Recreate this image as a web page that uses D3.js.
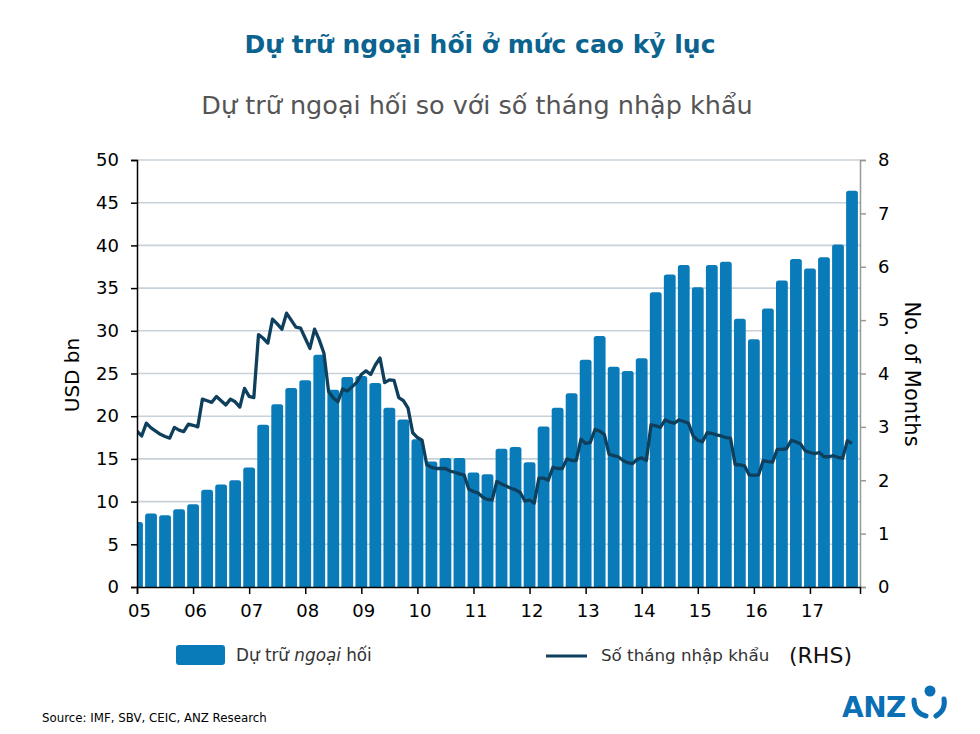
<!DOCTYPE html>
<html>
<head>
<meta charset="utf-8">
<script src="https://cdn.jsdelivr.net/npm/d3@7"></script>
<style>
  html, body { margin: 0; padding: 0; background: #fff; }
  svg { display: block; }
  text { font-family: "DejaVu Sans", Verdana, sans-serif; }
</style>
</head>
<body>
<div id="chart"></div>
<script>
// ---------------- DATA ----------------
const yearLabels = ["05","06","07","08","09","10","11","12","13","14","15","16","17"];

// Quarterly FX reserves, USD bn (Q1 2005 .. Q4 2017)
const reserves = [
  7.6, 8.6, 8.4, 9.1,
  9.7, 11.4, 12.0, 12.5,
  14.0, 19.0, 21.4, 23.3,
  24.2, 27.2, 23.1, 24.6,
  24.7, 23.9, 21.0, 19.6,
  17.3, 14.7, 15.1, 15.1,
  13.4, 13.2, 16.2, 16.4,
  14.6, 18.8, 21.0, 22.7,
  26.6, 29.4, 25.8, 25.3,
  26.8, 34.5, 36.6, 37.7,
  35.1, 37.7, 38.1, 31.4,
  29.0, 32.6, 35.9, 38.4,
  37.3, 38.6, 40.1, 46.4
];

// Monthly import cover, months (Feb 2005 .. Nov 2017)
const importMonths = [
  2.92, 2.83, 3.07, 2.98, 2.92, 2.86, 2.82, 2.79, 2.99, 2.94,
  2.91, 3.05, 3.03, 3.00, 3.52, 3.49, 3.46, 3.57, 3.49, 3.41,
  3.52, 3.47, 3.37, 3.72, 3.57, 3.55, 4.73, 4.66, 4.57, 5.02,
  4.93, 4.83, 5.13, 5.00, 4.87, 4.85, 4.66, 4.47, 4.83, 4.63,
  4.38, 3.66, 3.54, 3.47, 3.71, 3.67, 3.75, 3.83, 3.98, 4.05,
  3.98, 4.16, 4.29, 3.83, 3.88, 3.87, 3.55, 3.49, 3.35, 2.89,
  2.80, 2.75, 2.29, 2.24, 2.22, 2.22, 2.22, 2.17, 2.15, 2.12,
  2.10, 1.83, 1.79, 1.76, 1.68, 1.64, 1.63, 1.98, 1.93, 1.89,
  1.85, 1.82, 1.77, 1.61, 1.63, 1.57, 2.04, 2.04, 2.00, 2.24,
  2.22, 2.22, 2.40, 2.37, 2.37, 2.77, 2.69, 2.71, 2.95, 2.92,
  2.86, 2.49, 2.46, 2.44, 2.37, 2.33, 2.31, 2.39, 2.42, 2.37,
  3.04, 3.02, 2.99, 3.13, 3.09, 3.07, 3.13, 3.10, 3.07, 2.83,
  2.75, 2.72, 2.89, 2.88, 2.85, 2.83, 2.80, 2.79, 2.29, 2.29,
  2.27, 2.10, 2.09, 2.10, 2.37, 2.35, 2.34, 2.58, 2.58, 2.59,
  2.75, 2.72, 2.68, 2.55, 2.52, 2.50, 2.52, 2.44, 2.44, 2.46,
  2.43, 2.41, 2.74, 2.69
];

const leftTicks = [0,5,10,15,20,25,30,35,40,45,50];
const rightTicks = [0,1,2,3,4,5,6,7,8];

const titleText = "Dự trữ ngoại hối ở mức cao kỷ lục";
const subtitleText = "Dự trữ ngoại hối so với số tháng nhập khẩu";
const sourceText = "Source: IMF, SBV, CEIC, ANZ Research";

// ---------------- STYLE ----------------
const W = 980, H = 734;
const plot = {left: 137, right: 860, top: 160, bottom: 587};
const barColor = "#0a7bb9";
const lineColor = "#0e3f5c";
const gridColor = "#c7d1d9";
const titleColor = "#0b6390";

const svg = d3.select("#chart").append("svg")
  .attr("width", W).attr("height", H)
  .attr("viewBox", `0 0 ${W} ${H}`);
svg.append("rect").attr("width", W).attr("height", H).attr("fill", "#fff");

const x = d3.scaleLinear().domain([0, 51.57]).range([plot.left, plot.right]);
const yL = d3.scaleLinear().domain([0, 50]).range([plot.bottom, plot.top]);
const yR = d3.scaleLinear().domain([0, 8]).range([plot.bottom, plot.top]);

svg.append("defs").append("clipPath").attr("id", "plotclip")
  .append("rect")
  .attr("x", plot.left).attr("y", plot.top - 10)
  .attr("width", plot.right - plot.left).attr("height", plot.bottom - plot.top + 10);

// Titles
svg.append("text").attr("x", 480).attr("y", 53)
  .attr("text-anchor", "middle").attr("font-size", 25).attr("font-weight", "bold")
  .attr("fill", titleColor).text(titleText);
svg.append("text").attr("x", 477).attr("y", 114)
  .attr("text-anchor", "middle").attr("font-size", 25.5).attr("fill", "#555")
  .text(subtitleText);

// Gridlines
svg.append("g").selectAll("line").data(leftTicks.filter(d => d > 0)).join("line")
  .attr("x1", plot.left).attr("x2", plot.right)
  .attr("y1", d => yL(d)).attr("y2", d => yL(d))
  .attr("stroke", gridColor).attr("stroke-width", 1.6);

// Bars with rounded tops
const barW = 11.8, r = 2.5;
svg.append("g").attr("clip-path", "url(#plotclip)")
  .selectAll("path").data(reserves).join("path")
  .attr("d", (d, i) => {
    const cx = x(i), x0 = cx - barW / 2, x1 = cx + barW / 2;
    const yt = yL(d), yb = yL(0);
    return `M${x0},${yb}L${x0},${yt + r}Q${x0},${yt} ${x0 + r},${yt}L${x1 - r},${yt}Q${x1},${yt} ${x1},${yt + r}L${x1},${yb}Z`;
  })
  .attr("fill", barColor);

// Line (monthly; centred month of each quarter sits on the bar centre)
const line = d3.line()
  .x((d, k) => x(k / 3))
  .y(d => yR(d));
svg.append("g").attr("clip-path", "url(#plotclip)")
  .append("path").datum(importMonths)
  .attr("d", line)
  .attr("fill", "none").attr("stroke", lineColor)
  .attr("stroke-width", 3.3).attr("stroke-linejoin", "round");

// Axes
const axisFont = 18;
const gL = svg.append("g").attr("transform", `translate(${plot.left},0)`)
  .call(d3.axisLeft(yL).tickValues(leftTicks).tickSize(6).tickPadding(12).tickFormat(d3.format("d")));
gL.select(".domain").attr("stroke", "#000").attr("stroke-width", 1.5);
gL.selectAll(".tick line").attr("stroke", "#000").attr("stroke-width", 1.5);
gL.selectAll(".tick text").attr("font-size", axisFont).attr("font-family", "DejaVu Sans").attr("fill", "#000");

const gR = svg.append("g").attr("transform", `translate(${plot.right},0)`)
  .call(d3.axisRight(yR).tickValues(rightTicks).tickSize(6).tickPadding(12).tickFormat(d3.format("d")));
gR.select(".domain").attr("stroke", "#999").attr("stroke-width", 1.5);
gR.selectAll(".tick line").attr("stroke", "#999").attr("stroke-width", 1.5);
gR.selectAll(".tick text").attr("font-size", axisFont).attr("font-family", "DejaVu Sans").attr("fill", "#000");

const gB = svg.append("g").attr("transform", `translate(0,${plot.bottom})`)
  .call(d3.axisBottom(x).tickValues(yearLabels.map((d, i) => 4 * i))
    .tickSize(7).tickPadding(10).tickFormat((d, i) => yearLabels[i]));
gB.select(".domain").attr("stroke", "#000").attr("stroke-width", 1.5);
gB.selectAll(".tick line").attr("stroke", "#000").attr("stroke-width", 1.5);
gB.selectAll(".tick text").attr("font-size", axisFont).attr("font-family", "DejaVu Sans")
  .attr("fill", "#000").attr("dx", 2);

// Axis titles
svg.append("text").attr("transform", "translate(79,375) rotate(-90)")
  .attr("text-anchor", "middle").attr("font-size", 20).attr("fill", "#000").text("USD bn");
svg.append("text").attr("transform", "translate(905,374) rotate(90)")
  .attr("text-anchor", "middle").attr("font-size", 21).attr("fill", "#000").text("No. of Months");

// Legend
const lg = svg.append("g");
lg.append("rect").attr("x", 176).attr("y", 645).attr("width", 49).attr("height", 20)
  .attr("rx", 3).attr("fill", barColor);
const t1 = lg.append("text").attr("x", 236).attr("y", 661).attr("font-size", 16.8).attr("fill", "#333");
t1.append("tspan").text("Dự trữ ");
t1.append("tspan").attr("font-style", "italic").text("ngoại");
t1.append("tspan").text(" hối");
lg.append("line").attr("x1", 546).attr("x2", 587).attr("y1", 656).attr("y2", 656)
  .attr("stroke", lineColor).attr("stroke-width", 3);
lg.append("text").attr("x", 601).attr("y", 661).attr("font-size", 16.7).attr("fill", "#333")
  .text("Số tháng nhập khẩu");
lg.append("text").attr("x", 789).attr("y", 663).attr("font-size", 22).attr("fill", "#111")
  .text("(RHS)");

// Source
svg.append("text").attr("x", 42).attr("y", 722).attr("font-size", 11.8).attr("fill", "#000")
  .text(sourceText);

// ANZ logo
const logo = svg.append("g");
logo.append("text").attr("x", 842).attr("y", 717)
  .attr("font-family", "Liberation Sans, Arial, sans-serif").attr("font-weight", "bold")
  .attr("font-size", 28).attr("fill", "#0a6fb5").attr("letter-spacing", -0.5).text("ANZ");
logo.append("circle").attr("cx", 930).attr("cy", 691).attr("r", 5.5).attr("fill", "#0a6fb5");
logo.append("path").attr("d", "M914,700 Q914,713 926,716")
  .attr("fill", "none").attr("stroke", "#0a6fb5").attr("stroke-width", 5).attr("stroke-linecap", "round");
logo.append("path").attr("d", "M944,699 Q946,710 936,716")
  .attr("fill", "none").attr("stroke", "#0a6fb5").attr("stroke-width", 5).attr("stroke-linecap", "round");
</script>
</body>
</html>
